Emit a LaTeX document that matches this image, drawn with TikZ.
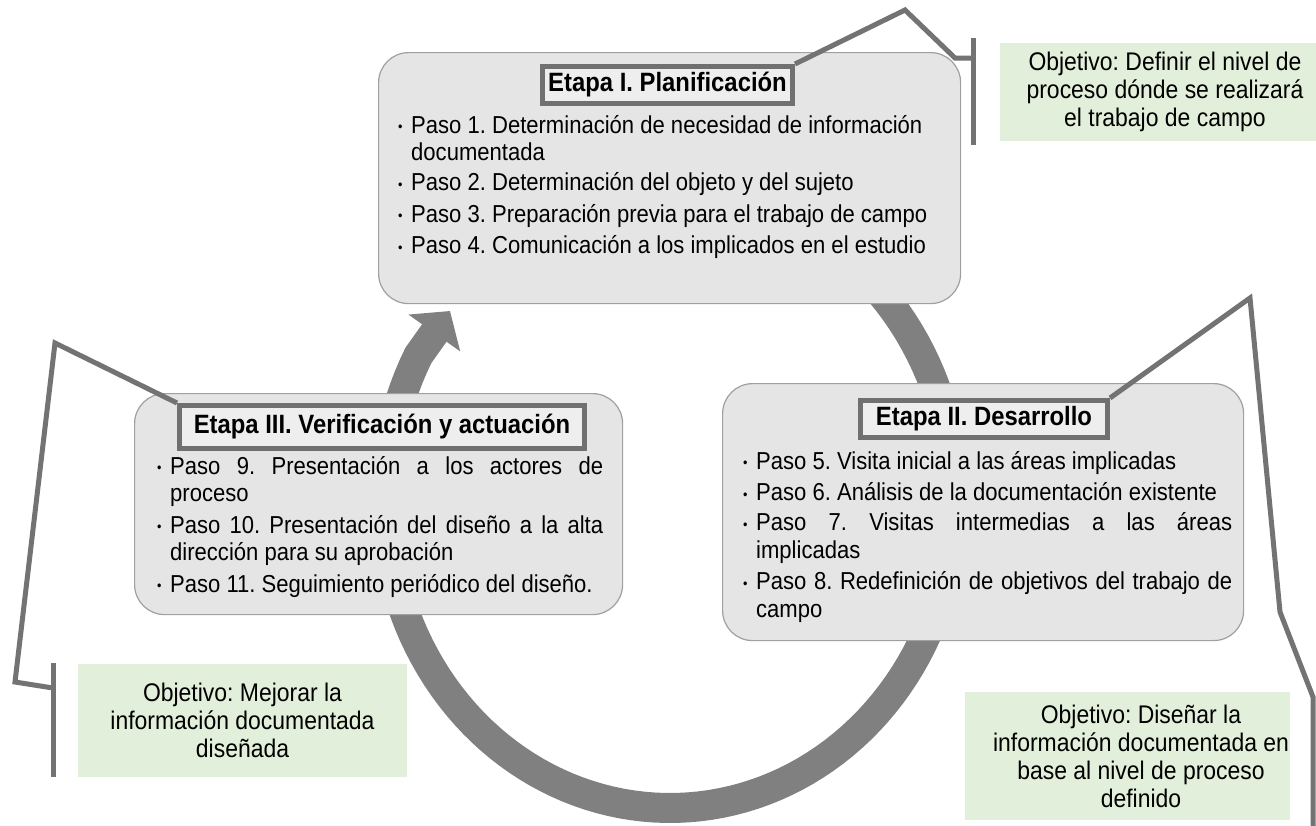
\documentclass[tikz,border=0pt]{standalone}
\usepackage{fontspec}
\setmainfont{Liberation Sans}[FakeStretch=0.9]
\usetikzlibrary{arrows.meta}
\definecolor{boxfill}{RGB}{229,229,229}
\definecolor{boxline}{RGB}{160,160,160}
\definecolor{titlefill}{RGB}{238,238,238}
\definecolor{titleline}{RGB}{112,112,112}
\definecolor{ringcol}{RGB}{128,128,128}
\definecolor{conncol}{RGB}{115,115,115}
\definecolor{greenfill}{RGB}{226,239,218}
\hyphenpenalty=10000
\exhyphenpenalty=10000
\tolerance=10000
\frenchspacing
\newcommand{\bulstart}{\noindent\hangindent=13pt\hangafter=1\rule{0pt}{23pt}\makebox[13pt][l]{\raisebox{1.5pt}{\fontsize{14}{14}\selectfont •}}}
\newcommand{\bul}{\par\vspace{2.5pt}\bulstart}
\pgfdeclarelayer{back}
\pgfdeclarelayer{mid}
\pgfdeclarelayer{front}
\pgfsetlayers{back,mid,main,front}
\begin{document}
\begin{tikzpicture}[x=1pt,y=-1pt,
  stagebox/.style={draw=boxline, line width=1.2pt, fill=boxfill, rounded corners=30pt, inner sep=0pt, anchor=north west},
  titlebox/.style={draw=titleline, line width=5pt, fill=titlefill, inner sep=0pt, font=\fontsize{26.5}{30}\selectfont\bfseries},
  steptext/.style={inner sep=0pt, anchor=north west, align=justify, font=\fontsize{24.5}{27.5}\selectfont},
  goalbox/.style={fill=greenfill, inner sep=0pt},
  goaltext/.style={align=center, inner sep=0pt, font=\fontsize{25.5}{28}\selectfont},
  ring/.style={draw=ringcol, line width=30pt},
  leader/.style={draw=conncol, line width=5pt, line join=miter}
]
\useasboundingbox (0,0) rectangle (1316,825);
\begin{pgfonlayer}{back}
  \fill[white] (0,0) rectangle (1316,825);
  \coordinate (ringtip) at (450,311);
  \draw[ring, -{Triangle[length=27pt,width=62pt]}]
    plot[domain=-60:208, samples=120] ({670+285*cos(\x)},{500+308*sin(\x)}) -- (ringtip);
\end{pgfonlayer}

\begin{pgfonlayer}{mid}
  \node[stagebox, minimum width=582pt, minimum height=251pt] (e1) at (378,52) {};
  \node[stagebox, minimum width=488pt, minimum height=221pt] (e3) at (134,393) {};
  \node[stagebox, minimum width=521pt, minimum height=257pt] (e2) at (722,383) {};
\end{pgfonlayer}

\begin{pgfonlayer}{front}
  \node[titlebox, minimum width=250pt, minimum height=37pt] (t1) at (667.5,85) {Etapa I. Planificación};
  \node[titlebox, minimum width=405pt, minimum height=43pt] (t3) at (382,427) {Etapa III. Verificación y actuación};
  \node[titlebox, minimum width=247pt, minimum height=37pt] (t2) at (984,419) {Etapa II. Desarrollo};

  \node[steptext, text width=540pt] (e1text) at (398,110) {%
    \rightskip=0pt plus 1fil
    \bulstart Paso 1. Determinación de necesidad de información documentada
    \bul Paso 2. Determinación del objeto y del sujeto
    \bul Paso 3. Preparación previa para el trabajo de campo
    \bul Paso 4. Comunicación a los implicados en el estudio\par};
  \node[steptext, text width=446pt] (e3text) at (157,451) {%
    \bulstart Paso 9. Presentación a los actores de\linebreak proceso
    \bul Paso 10. Presentación del diseño a la alta\linebreak dirección para su aprobación
    \bul Paso 11. Seguimiento periódico del diseño.\par};
  \node[steptext, text width=489pt] (e2text) at (743,446) {%
    \bulstart Paso 5. Visita inicial a las áreas implicadas
    \bul Paso 6. Análisis de la documentación existente
    \bul Paso 7. Visitas intermedias a las áreas\linebreak implicadas
    \bul Paso 8. Redefinición de objetivos del trabajo de\linebreak campo\par};
\end{pgfonlayer}

% objective boxes
\node[goalbox, goaltext, minimum width=330pt, minimum height=98pt] (g1) at (1165,92)
  {Objetivo: Definir el nivel de\\proceso dónde se realizará\\el trabajo de campo};
\node[goalbox, goaltext, minimum width=329pt, minimum height=113pt] (g2) at (242.5,720.5)
  {Objetivo: Mejorar la\\información documentada\\diseñada};
\node[goalbox, minimum width=325pt, minimum height=128pt, anchor=north west] (g3) at (965,692) {};
\node[goaltext] (g3text) at (1141,756)
  {Objetivo: Diseñar la\\información documentada en\\base al nivel de proceso\\definido};

% leader lines
\coordinate (c1a) at (905,10);
\coordinate (c1b) at (955,58);
\coordinate (c1c) at (973,58);
\coordinate (c1top) at (973,38);
\coordinate (c1bot) at (973,145);
\draw[leader] (t1.north east) -- (c1a) -- (c1b) -- (c1c);
\draw[leader] (c1top) -- (c1bot);

\coordinate (c3a) at (55,343);
\coordinate (c3b) at (15,682);
\coordinate (c3c) at (53,688);
\coordinate (c3top) at (53,663);
\coordinate (c3bot) at (53,777);
\draw[leader] (t3.north west) -- (c3a) -- (c3b) -- (c3c);
\draw[leader] (c3top) -- (c3bot);

\coordinate (c2a) at (1250,298);
\coordinate (c2b) at (1280,612);
\coordinate (c2c) at (1313,697);
\coordinate (c2d) at (1313,830);
\draw[leader] (t2.north east) -- (c2a) -- (c2b) -- (c2c) -- (c2d);
\end{tikzpicture}
\end{document}
